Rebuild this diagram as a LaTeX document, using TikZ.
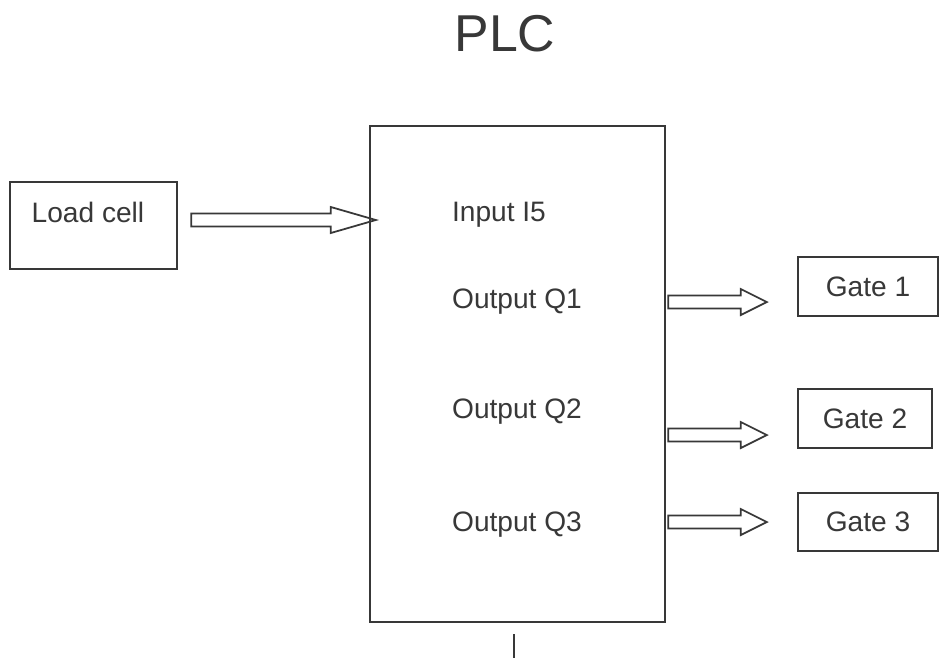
\documentclass[tikz,border=0pt]{standalone}
\usepackage{fontspec}
\setmainfont{Liberation Sans}
\usepackage{tikz}
\usetikzlibrary{calc}
\definecolor{ink}{HTML}{383838}

\begin{document}
\begin{tikzpicture}[x=0.02cm,y=-0.02cm]
					\tikzstyle{box}=[rectangle,draw=ink,line width=1.4pt,inner sep=0pt]
					\tikzstyle{lbl}=[text=ink,font=\fontsize{16pt}{18pt}\selectfont,inner sep=0pt]
					\tikzstyle{fat}=[draw=ink,line width=1pt,line join=miter,to path={let \p1=(\tikztostart), \p2=(\tikztotarget) in (\x1,\y2+0.13cm) -- (\x2-#1,\y2+0.13cm) -- (\x2-#1,\y2+0.26cm) -- (\x2,\y2) -- (\x2-#1,\y2-0.26cm) -- (\x2-#1,\y2-0.13cm) -- (\x1,\y2-0.13cm) -- cycle}]
					\useasboundingbox[fill=white] (0,0) rectangle (939,657);
					\node[lbl,font=\fontsize{29.5pt}{32pt}\selectfont] (title) at (505,34) {PLC};
					\node[box,minimum width=5.9cm,minimum height=9.92cm] (plc) at (517.5,374) {};
					\node[lbl] (in5) at (499,215) {Input I5};
					\node[lbl] (q1) at (517,302) {Output Q1};
					\node[lbl] (q2) at (517,412) {Output Q2};
					\node[lbl] (q3) at (517,525) {Output Q3};
					\node[box,minimum width=3.34cm,minimum height=1.74cm] (load) at (93.5,225.5) {};
					\node[lbl] (loadtxt) at (88,212) {Load cell};
					\node[box,lbl,draw=ink,inner sep=0pt,minimum width=2.8cm,minimum height=1.18cm] (g1) at (868,286.5) {Gate 1};
					\node[box,lbl,draw=ink,inner sep=0pt,minimum width=2.68cm,minimum height=1.18cm] (g2) at (865,418.5) {Gate 2};
					\node[box,lbl,draw=ink,inner sep=0pt,minimum width=2.8cm,minimum height=1.16cm] (g3) at (868,522) {Gate 3};
					\draw[fat=0.9cm] ([xshift=0.26cm]load.east) to ([xshift=0.14cm,yshift=0.11cm]plc.west |- load.east);
					\draw[fat=0.52cm] ([xshift=0.04cm]plc.east) to ([xshift=-0.6cm,yshift=-0.31cm]g1.west);
					\draw[fat=0.52cm] ([xshift=0.04cm]plc.east) to ([xshift=-0.6cm,yshift=-0.33cm]g2.west);
					\draw[fat=0.52cm] ([xshift=0.04cm]plc.east) to ([xshift=-0.6cm]g3.west);
					\draw[draw=ink,line width=1.4pt] (plc.south) ++(-3.5,11) -- ++(0,26);
\end{tikzpicture}
\end{document}
